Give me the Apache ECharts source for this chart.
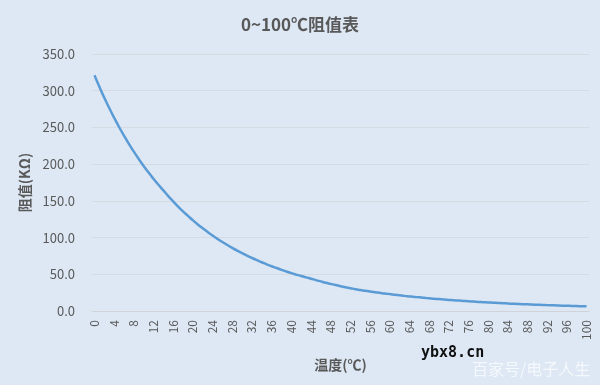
<!DOCTYPE html>
<html>
<head>
<meta charset="utf-8">
<script src="https://cdn.jsdelivr.net/npm/echarts@6/dist/echarts.min.js"></script>
<style>
html,body{margin:0;padding:0;background:#dde8f4;}
#c{width:600px;height:385px;}
</style>
</head>
<body>
<div id="c"></div>
<script>
const temps = [];
for (let t = 0; t <= 100; t++) temps.push(String(t));
const resistance = [
321.0,305.3,290.4,276.4,263.2,250.6,238.8,227.6,217.0,207.0,
197.5,188.5,180.0,171.9,164.3,156.5,149.2,142.2,135.6,129.5,
123.5,117.9,112.7,107.5,102.8,98.2,93.9,89.9,86.0,82.2,
78.8,75.4,72.2,69.2,66.4,63.5,60.9,58.5,56.1,53.8,
51.6,49.6,47.7,45.8,44.0,42.1,40.3,38.5,36.9,35.3,
33.8,32.4,31.1,29.7,28.6,27.6,26.6,25.6,24.7,23.8,
23.0,22.2,21.4,20.6,19.9,19.2,18.6,17.9,17.3,16.7,
16.2,15.6,15.1,14.6,14.2,13.7,13.2,12.8,12.4,12.0,
11.6,11.3,10.9,10.6,10.2,9.9,9.6,9.3,9.1,8.8,
8.5,8.3,8.0,7.8,7.6,7.3,7.1,6.9,6.7,6.5,6.3
];
const titleText = '0~100℃阻值表';
const yName = '阻值(KΩ)';
const xName = '温度(℃)';

const font = '"Noto Sans CJK SC", "Noto Sans", sans-serif';
const chart = echarts.init(document.getElementById('c'));
chart.setOption({
  backgroundColor: '#dde8f4',
  animation: false,
  title: {
    text: titleText, left: 'center', top: 11,
    textStyle: {fontFamily: font, fontSize: 17, fontWeight: 'bold', color: '#595959'}
  },
  grid: {left: 92, right: 11, top: 54, bottom: 74, containLabel: false},
  xAxis: {
    type: 'category', data: temps, boundaryGap: true,
    name: xName, nameLocation: 'middle', nameGap: 47,
    nameTextStyle: {fontFamily: font, fontSize: 14, fontWeight: 'bold', color: '#595959'},
    axisLine: {lineStyle: {color: '#d0d4d9'}},
    axisTick: {show: false},
    axisLabel: {interval: 3, rotate: 90, margin: 9, fontFamily: font, fontSize: 12, color: '#595959'}
  },
  yAxis: {
    type: 'value', min: 0, max: 350, interval: 50,
    name: yName, nameLocation: 'middle', nameGap: 60, nameRotate: 90,
    nameTextStyle: {fontFamily: font, fontSize: 14, fontWeight: 'bold', color: '#595959'},
    axisLine: {show: false}, axisTick: {show: false},
    splitLine: {lineStyle: {color: '#d4dbe3'}},
    axisLabel: {margin: 17, fontFamily: font, fontSize: 13, color: '#595959',
      formatter: v => v.toFixed(1)}
  },
  series: [{
    type: 'line', data: resistance, smooth: true, showSymbol: false,
    lineStyle: {color: '#5b9bd5', width: 2.5}
  }],
  graphic: [
    {type: 'text', left: 421, top: 346,
     style: {text: 'ybx8.cn', font: 'bold 15px "DejaVu Sans Mono", monospace', fill: '#111'}},
    {type: 'text', left: 472, top: 361,
     style: {text: '百家号/电子人生', font: '16px "Noto Sans CJK SC"', fill: 'rgba(255,255,255,0.7)'}}
  ]
});
</script>
</body>
</html>
